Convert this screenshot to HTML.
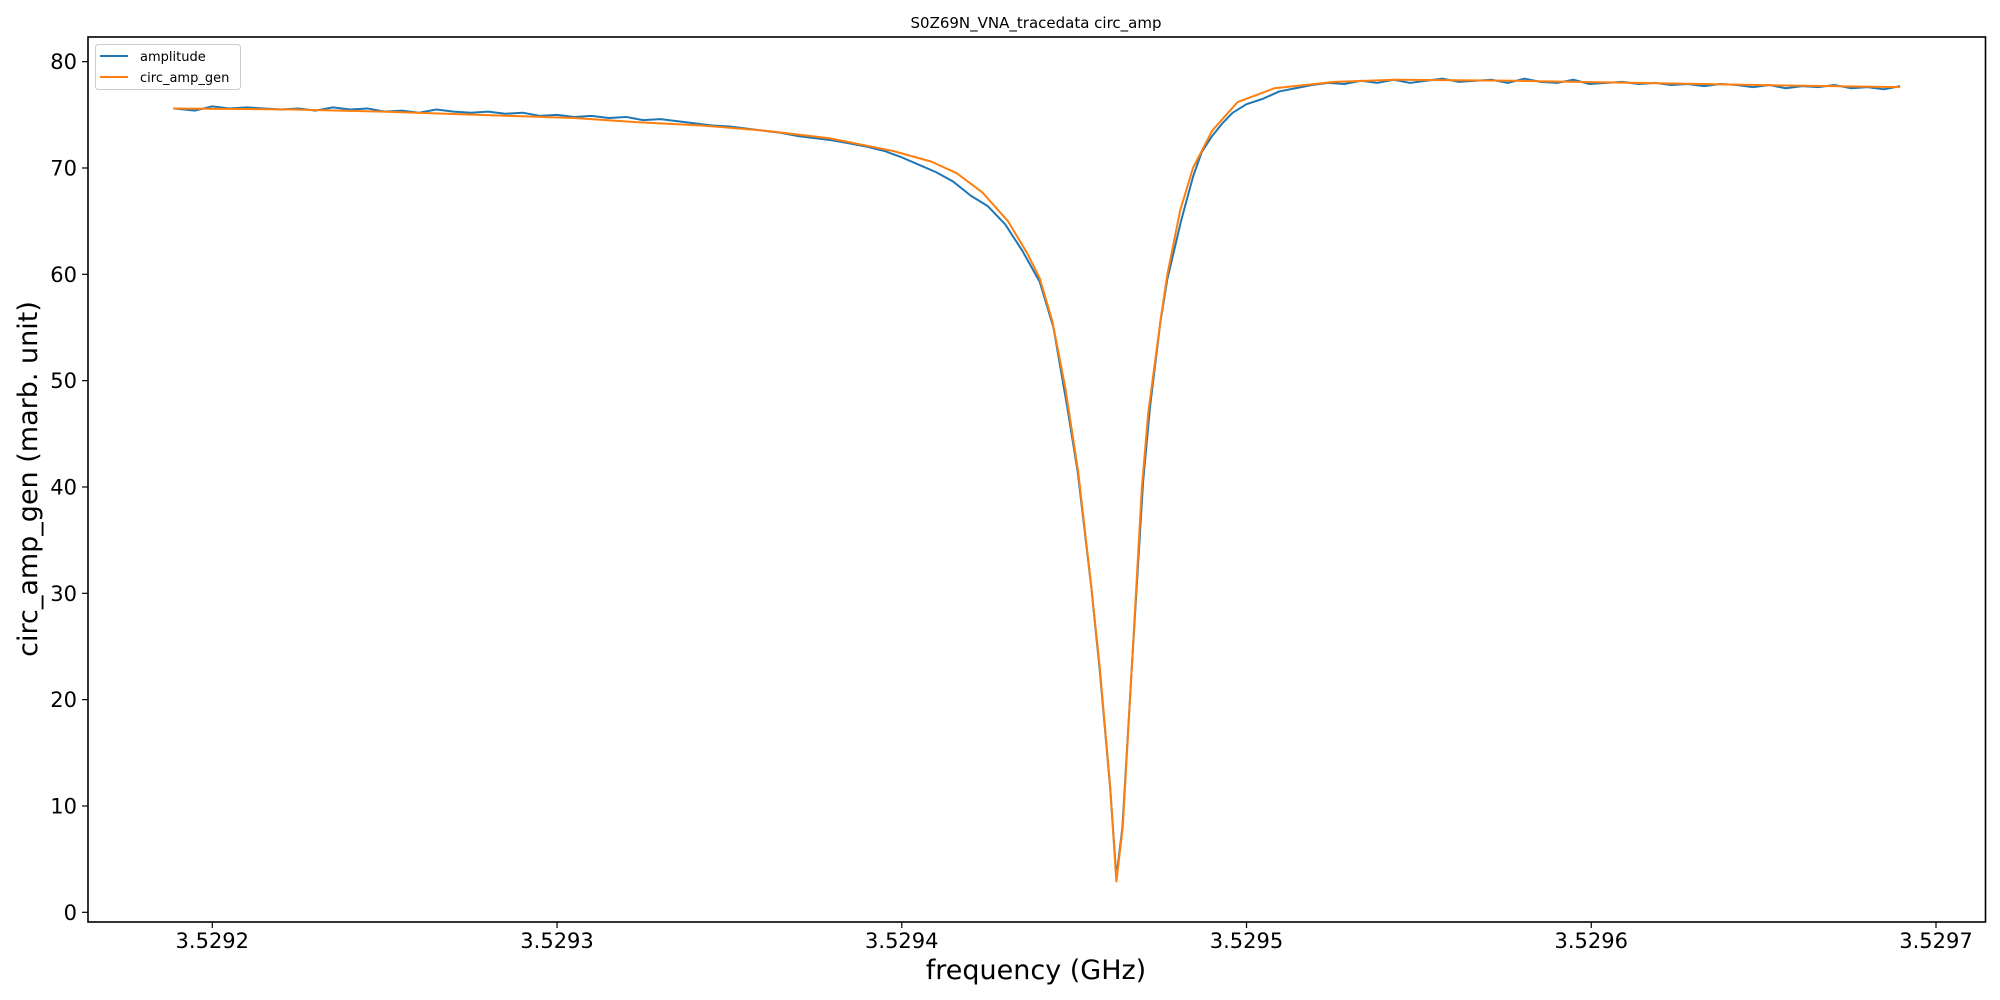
<!DOCTYPE html>
<html><head><meta charset="utf-8"><style>
html,body{margin:0;padding:0;background:#fff;}
svg{display:block;font-family:"DejaVu Sans","Liberation Sans",sans-serif;}
</style></head><body>
<svg id="chart" width="2000" height="1000" viewBox="0 0 2000 1000">
<rect x="0" y="0" width="2000" height="1000" fill="#fff"/>
<text x="1036" y="28" font-size="15" text-anchor="middle">S0Z69N_VNA_tracedata circ_amp</text>
<g id="plot"></g>
<rect x="88" y="37" width="1897.5" height="885" fill="none" stroke="#000" stroke-width="1.6"/>
<g id="xticks"></g>
<g id="yticks"></g>
<text x="1036" y="979" font-size="27" text-anchor="middle">frequency (GHz)</text>
<text x="0" y="0" font-size="27" text-anchor="middle" transform="translate(37,479) rotate(-90)">circ_amp_gen (marb. unit)</text>
<g>
<rect x="95.5" y="44.5" width="145" height="45" rx="3" fill="#fff" fill-opacity="0.8" stroke="#ccc" stroke-width="1"/>
<line x1="100" y1="56" x2="128" y2="56" stroke="#1f77b4" stroke-width="2"/>
<text x="140" y="61" font-size="13">amplitude</text>
<line x1="100" y1="77" x2="128" y2="77" stroke="#ff7f0e" stroke-width="2"/>
<text x="140" y="82" font-size="13">circ_amp_gen</text>
</g>
</svg>
<script>
// frequency offsets in units of 1e-4 GHz relative to 3.5292 GHz
const fitFreqOff = [-0.1138,0.2332,0.4945,0.8646,1.0496,1.2347,1.4197,1.6048,1.7898,1.9749,2.0859,2.1599,2.2339,2.3080,2.3635,2.4005,2.4375,2.4745,2.5115,2.5485,2.5744,2.6040,2.6225,2.6410,2.6706,2.6965,2.7150,2.7520,2.7705,2.8075,2.8446,2.9001,2.9741,3.081,3.256,3.432,3.782,4.134,4.485,4.896];
const fitValues = [75.6,75.5,75.3,74.9,74.7,74.3,74.0,73.5,72.8,71.6,70.6,69.5,67.7,65.0,62.0,59.6,55.5,49.3,41.5,31.0,23.0,12.0,2.9,8.0,25.0,40.0,47.0,56.0,60.0,66.0,70.0,73.5,76.2,77.5,78.1,78.3,78.2,78.0,77.8,77.6];
const ampFreqOff = [-0.11,-0.05,0,0.05,0.1,0.15,0.2,0.25,0.3,0.35,0.4,0.45,0.5,0.55,0.6,0.65,0.7,0.75,0.8,0.85,0.9,0.95,1.0,1.05,1.1,1.15,1.2,1.25,1.3,1.35,1.4,1.45,1.5,1.55,1.6,1.65,1.7,1.75,1.8,1.85,1.9,1.95,2.0,2.05,2.1,2.15,2.2,2.25,2.3,2.35,2.4,2.44,2.48,2.51,2.55,2.575,2.605,2.6225,2.64,2.67,2.70,2.72,2.75,2.77,2.81,2.845,2.87,2.9,2.93,2.96,3.0,3.047,3.095,3.142,3.190,3.237,3.284,3.332,3.379,3.427,3.474,3.521,3.569,3.616,3.664,3.711,3.758,3.806,3.853,3.901,3.948,3.995,4.043,4.090,4.138,4.185,4.232,4.280,4.327,4.375,4.422,4.469,4.517,4.564,4.612,4.659,4.706,4.754,4.801,4.849,4.896];
const ampValues = [75.6,75.4,75.8,75.6,75.7,75.6,75.5,75.6,75.4,75.7,75.5,75.6,75.3,75.4,75.2,75.5,75.3,75.2,75.3,75.1,75.2,74.9,75.0,74.8,74.9,74.7,74.8,74.5,74.6,74.4,74.2,74.0,73.9,73.7,73.5,73.3,73.0,72.8,72.6,72.3,72.0,71.6,71.0,70.3,69.6,68.7,67.4,66.4,64.7,62.2,59.3,55.0,47.5,41.5,30.5,22.5,11.5,3.3,8.0,24.5,40.5,47.5,55.5,59.5,65.0,69.2,71.5,73.0,74.2,75.2,76.0,76.5,77.2,77.5,77.8,78.0,77.9,78.2,78.0,78.3,78.0,78.2,78.4,78.1,78.2,78.3,78.0,78.4,78.1,78.0,78.3,77.9,78.0,78.1,77.9,78.0,77.8,77.9,77.7,77.9,77.8,77.6,77.8,77.5,77.7,77.6,77.8,77.5,77.6,77.4,77.7];
const xTickLabels = ["3.5292","3.5293","3.5294","3.5295","3.5296","3.5297"];
const xTickOff = [0,1,2,3,4,5];
const yTickValues = [0,10,20,30,40,50,60,70,80];

const NS="http://www.w3.org/2000/svg";
function xs(off){return 212.3 + off*344.74;}
function ys(v){return 912.3 - v*10.633;}
function pathFor(fx,fy){return fx.map((f,i)=>(i?"L":"M")+xs(f).toFixed(2)+","+ys(fy[i]).toFixed(2)).join(" ");}
const plot=document.getElementById('plot');
const p1=document.createElementNS(NS,'path');
p1.setAttribute('d',pathFor(ampFreqOff,ampValues));
p1.setAttribute('fill','none');p1.setAttribute('stroke','#1f77b4');p1.setAttribute('stroke-width','2');p1.setAttribute('stroke-linejoin','round');


plot.appendChild(p1);
const p2=document.createElementNS(NS,'path');
p2.setAttribute('d',pathFor(fitFreqOff,fitValues));
p2.setAttribute('fill','none');p2.setAttribute('stroke','#ff7f0e');p2.setAttribute('stroke-width','2');p2.setAttribute('stroke-linejoin','round');


plot.appendChild(p2);
const xg=document.getElementById('xticks');
xTickOff.forEach((o,i)=>{
  const x=xs(o);
  const l=document.createElementNS(NS,'line');
  l.setAttribute('x1',x);l.setAttribute('x2',x);l.setAttribute('y1',922);l.setAttribute('y2',928);l.setAttribute('stroke','#000');l.setAttribute('stroke-width','1.2');
  
  
  xg.appendChild(l);
  const t=document.createElementNS(NS,'text');
  t.setAttribute('x',x);t.setAttribute('y',948);t.setAttribute('font-size','21');t.setAttribute('text-anchor','middle');
  t.textContent=xTickLabels[i];
  
  
  xg.appendChild(t);
});
const yg=document.getElementById('yticks');
yTickValues.forEach(v=>{
  const y=ys(v);
  const l=document.createElementNS(NS,'line');
  l.setAttribute('x1',82);l.setAttribute('x2',88);l.setAttribute('y1',y);l.setAttribute('y2',y);l.setAttribute('stroke','#000');l.setAttribute('stroke-width','1.2');
  
  
  yg.appendChild(l);
  const t=document.createElementNS(NS,'text');
  t.setAttribute('x',77);t.setAttribute('y',y+7.5);t.setAttribute('font-size','21');t.setAttribute('text-anchor','end');
  t.textContent=String(v);
  
  
  yg.appendChild(t);
});
</script>
</body></html>
